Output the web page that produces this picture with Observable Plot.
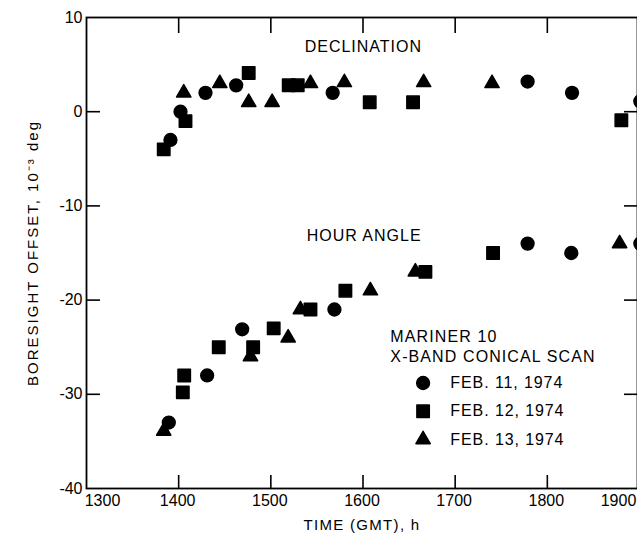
<!DOCTYPE html>
<html><head><meta charset="utf-8">
<script src="https://cdn.jsdelivr.net/npm/d3@7"></script>
<script src="https://cdn.jsdelivr.net/npm/@observablehq/plot@0.6"></script>
<style>
html,body{margin:0;padding:0;background:#fff;overflow:hidden;}
#chart{width:637px;height:538px;overflow:hidden;}
</style></head><body><div id="chart"></div>
<script>
// ---- data (time GMT, boresight offset 10^-3 deg) ----
const feb11DecTime   = [1391.1, 1402.0, 1429.1, 1462.4, 1567.1, 1778.6, 1826.8, 1900.9];
const feb11DecOffset = [-3.0, 0.0, 2.0, 2.8, 2.0, 3.2, 2.0, 1.1];
const feb12DecTime   = [1383.8, 1407.4, 1476.0, 1519.4, 1529.2, 1607.3, 1654.3, 1880.3];
const feb12DecOffset = [-4.0, -1.0, 4.1, 2.8, 2.8, 1.0, 1.0, -0.9];
const feb13DecTime   = [1405.5, 1444.6, 1476.0, 1501.4, 1543.0, 1579.8, 1665.8, 1740.0];
const feb13DecOffset = [2.0, 3.0, 1.0, 1.0, 3.0, 3.1, 3.1, 3.0];

const feb11HaTime   = [1389.3, 1430.9, 1468.9, 1569.0, 1778.6, 1826.0, 1900.9];
const feb11HaOffset = [-33.0, -28.0, -23.1, -21.0, -14.0, -15.0, -14.0];
const feb12HaTime   = [1404.5, 1406.0, 1443.5, 1480.8, 1503.1, 1543.0, 1580.9, 1667.7, 1741.1];
const feb12HaOffset = [-29.8, -28.0, -25.0, -25.0, -23.0, -21.0, -19.0, -17.0, -15.0];
const feb13HaTime   = [1383.8, 1477.9, 1518.8, 1532.1, 1608.0, 1656.8, 1878.4];
const feb13HaOffset = [-33.9, -26.0, -24.0, -21.0, -19.0, -17.0, -14.0];

const xFirstLabel = [1300];
const xTickLabels = [1400, 1500, 1600, 1700, 1800];
const xLastLabel  = [1900];
const xTickMarks  = [1400, 1500, 1600, 1700, 1800];
const yTickLabels = [-40, -30, -20, -10, 0, 10];
const yTickMarks  = [-30, -20, -10, 0];

const legendTitle = ["MARINER 10", "X-BAND CONICAL SCAN"];
const legendLabels = ["FEB. 11, 1974", "FEB. 12, 1974", "FEB. 13, 1974"];
const legendSymbols = ["circle", "square", "triangle"];
const xLabel = "TIME (GMT), h";
const yLabel = "BORESIGHT OFFSET, 10\u207B\u00B3 deg";

// ---- build tables ----
const zip = (t, v) => t.map((x, i) => ({time: x, offset: v[i]}));
const series = [
  {sym: "circle",   r: 6.4, rows: [...zip(feb11DecTime, feb11DecOffset), ...zip(feb11HaTime, feb11HaOffset)]},
  {sym: "square",   r: 7.0, rows: [...zip(feb12DecTime, feb12DecOffset), ...zip(feb12HaTime, feb12HaOffset)]},
  {sym: "triangle", r: 5.3, rows: [...zip(feb13DecTime, feb13DecOffset), ...zip(feb13HaTime, feb13HaOffset)]}
];
const legendRows = legendLabels.map((l, i) => ({label: l, sym: legendSymbols[i], i}));

const FONT = "Liberation Sans, Arial, sans-serif";
const dotStyle = {fill: "black", stroke: "black", strokeWidth: 1.5, strokeLinejoin: "round"};
// letter-spacing via render transform
const spaced = ls => ({render: (index, scales, values, dims, ctx, next) => {
  const g = next(index, scales, values, dims, ctx);
  if (g) g.style.letterSpacing = ls;
  return g;
}});
const tickFmt = d => String(d);

const chart = Plot.plot({
  width: 637,
  height: 538,
  marginTop: 17, marginBottom: 50, marginLeft: 86, marginRight: 0,
  style: {fontFamily: FONT, fontSize: "15px", background: "white", color: "black", overflow: "hidden"},
  x: {domain: [1300, 1900], range: [86, 639], label: null},
  y: {domain: [-40, 10], label: null},
  marks: [
    Plot.frame({stroke: "black", strokeWidth: 1.8}),
    // x axis labels
    Plot.axisX(xFirstLabel, {anchor: "bottom", tickSize: 0, tickPadding: 6, fontSize: 16, dx: 16, label: null, tickFormat: tickFmt}),
    Plot.axisX(xTickLabels, {anchor: "bottom", tickSize: 0, tickPadding: 6, fontSize: 16, dx: -1, label: null, tickFormat: tickFmt}),
    Plot.axisX(xLastLabel, {anchor: "bottom", tickSize: 0, tickPadding: 6, fontSize: 16, dx: -21, label: null, tickFormat: tickFmt}),
    // x inward ticks (bottom & top)
    Plot.axisX(xTickMarks, {anchor: "bottom", tickSize: -13, text: null, strokeWidth: 1.6, label: null}),
    Plot.axisX(xTickMarks, {anchor: "top", tickSize: -15, text: null, strokeWidth: 1.6, label: null}),
    // y axis labels
    Plot.axisY(yTickLabels, {anchor: "left", tickSize: 0, tickPadding: 4, fontSize: 16, label: null, tickFormat: tickFmt}),
    // y inward ticks (left & right)
    Plot.axisY(yTickMarks, {anchor: "left", tickSize: -14, text: null, strokeWidth: 1.6, label: null}),
    Plot.axisY(yTickMarks, {anchor: "right", tickSize: -14, text: null, strokeWidth: 1.6, label: null}),
    // axis titles
    Plot.text([xLabel], {frameAnchor: "bottom", dy: 41, fontSize: 15, ...spaced("1.3px")}),
    Plot.text([yLabel], {frameAnchor: "left", textAnchor: "middle", rotate: -90, dx: -53, fontSize: 15, ...spaced("2px")}),
    // annotations
    Plot.text(["DECLINATION"], {x: 1600.4, y: 6.9, fontSize: 16, ...spaced("1px")}),
    Plot.text(["HOUR ANGLE"], {x: 1601.2, y: -13.2, fontSize: 16, ...spaced("1px")}),
    // data points
    ...series.map(s => Plot.dot(s.rows, {x: "time", y: "offset", symbol: s.sym, r: s.r, ...dotStyle})),
    // legend
    Plot.text(legendTitle, {x: 1629.7, y: (d, i) => -23.9 - i * 2.1, textAnchor: "start", fontSize: 16, ...spaced("1.1px")}),
    ...legendRows.map(d => Plot.dot([d], {x: 1665.2, y: -28.8 - d.i * 3.0, symbol: d.sym, r: series[d.i].r, ...dotStyle})),
    Plot.text(legendRows, {x: 1694.8, y: d => -28.8 - d.i * 3.0, text: "label", textAnchor: "start", fontSize: 16, ...spaced("0.9px")})
  ]
});
document.getElementById("chart").appendChild(chart);
</script>
</body></html>
